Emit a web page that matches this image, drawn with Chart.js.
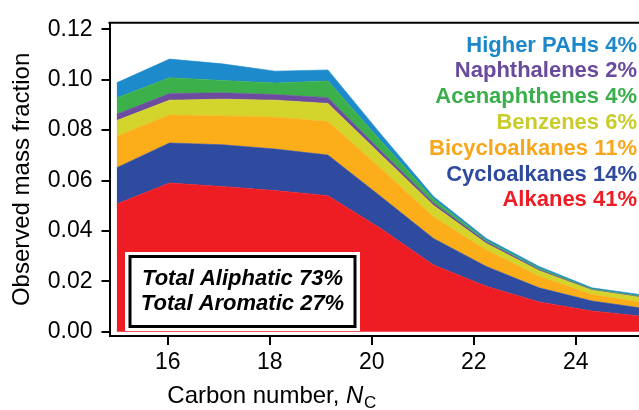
<!DOCTYPE html>
<html>
<head>
<meta charset="utf-8">
<script src="https://cdn.jsdelivr.net/npm/chart.js@4"></script>
<style>
  html, body { margin: 0; padding: 0; background: #fff; overflow: hidden; }
  #wrap { position: relative; width: 660px; height: 410px; }
</style>
</head>
<body>
<div id="wrap"><canvas id="c" width="660" height="410"></canvas></div>
<script>
// Carbon numbers of the samples
const carbonNumbers = [15, 16, 17, 18, 19, 20, 21, 22, 23, 24, 25];

// Observed mass fraction per compound class (stacked, bottom to top)
const alkanes        = [0.0507, 0.0590, 0.0576, 0.0560, 0.0540, 0.0410, 0.0265, 0.0180, 0.0118, 0.0082, 0.0060];
const cycloalkanes   = [0.0144, 0.0159, 0.0166, 0.0165, 0.0161, 0.0127, 0.0105, 0.0079, 0.0056, 0.0040, 0.0032];
const bicycloalkanes = [0.0124, 0.0111, 0.0114, 0.0126, 0.0133, 0.0111, 0.0085, 0.0065, 0.0046, 0.0026, 0.0022];
const benzenes       = [0.0063, 0.0059, 0.0067, 0.0068, 0.0072, 0.0055, 0.0046, 0.0026, 0.0022, 0.0017, 0.0020];
const naphthalenes   = [0.0025, 0.0026, 0.0025, 0.0022, 0.0023, 0.0015, 0.0010, 0.0007, 0.0005, 0.0002, 0.0002];
const acenaphthenes  = [0.0065, 0.0063, 0.0049, 0.0046, 0.0066, 0.0040, 0.0016, 0.0005, 0.0005, 0.0003, 0.0003];
const higherPAHs     = [0.0060, 0.0074, 0.0066, 0.0047, 0.0044, 0.0027, 0.0010, 0.0008, 0.0007, 0.0004, 0.0006];

const seriesNames  = ['Alkanes', 'Cycloalkanes', 'Bicycloalkanes', 'Benzenes', 'Naphthalenes', 'Acenaphthenes', 'Higher PAHs'];
const seriesValues = [alkanes, cycloalkanes, bicycloalkanes, benzenes, naphthalenes, acenaphthenes, higherPAHs];
const seriesColors = ['#ee1d23', '#2f4b9f', '#fbad1a', '#d3d52c', '#6b4c9f', '#3cb04a', '#1d8acb'];

// Legend text, top to bottom
const legendLabels = ['Higher PAHs 4%', 'Naphthalenes 2%', 'Acenaphthenes 4%', 'Benzenes 6%', 'Bicycloalkanes 11%', 'Cycloalkanes 14%', 'Alkanes 41%'];
const legendColors = ['#1c88c9', '#6a4a9c', '#3aae4a', '#c8cc2c', '#f9a61b', '#2e4a9e', '#ee1d23'];

const totalsLines = ['Total Aliphatic 73%', 'Total Aromatic 27%'];

const xTickValues = [16, 18, 20, 22, 24];
const yTickValues = [0, 0.02, 0.04, 0.06, 0.08, 0.10, 0.12];

const FONT = "'Liberation Sans', Arial, Helvetica, sans-serif";

const datasets = seriesNames.map((name, i) => ({
  label: name,
  data: carbonNumbers.map((n, j) => ({ x: n, y: seriesValues[i][j] })),
  xAxisID: 'xd',
  yAxisID: 'y',
  backgroundColor: seriesColors[i],
  borderColor: seriesColors[i],
  borderWidth: 0.6,
  pointRadius: 0,
  tension: 0,
  fill: i === 0 ? 'origin' : '-1'
}));

// Top edge of the plot frame, text overlays
const overlays = {
  id: 'overlays',
  afterDatasetsDraw(chart) {
    const ctx = chart.ctx;
    const a = chart.chartArea;
    ctx.save();
    // frame top
    ctx.strokeStyle = '#000';
    ctx.lineWidth = 2;
    ctx.beginPath();
    ctx.moveTo(a.left - 1, a.top);
    ctx.lineTo(a.right, a.top);
    ctx.stroke();

    // legend
    ctx.font = 'bold 22px ' + FONT;
    ctx.textAlign = 'right';
    ctx.textBaseline = 'alphabetic';
    legendLabels.forEach((t, i) => {
      ctx.fillStyle = legendColors[i];
      ctx.fillText(t, 637, 51.5 + i * 25.8);
    });

    // totals box
    ctx.fillStyle = '#fff';
    ctx.fillRect(125, 252, 235, 79);
    ctx.strokeStyle = '#000';
    ctx.lineWidth = 3;
    ctx.strokeRect(130, 256.5, 225, 70);
    ctx.fillStyle = '#000';
    ctx.font = 'italic bold 22px ' + FONT;
    ctx.textAlign = 'center';
    ctx.fillText(totalsLines[0], 242.5, 285);
    ctx.fillText(totalsLines[1], 242.5, 310);

    ctx.restore();
  },
  afterDraw(chart) {
    // x axis title with italic N and subscript C
    const ctx = chart.ctx;
    ctx.save();
    ctx.fillStyle = '#000';
    ctx.textBaseline = 'alphabetic';
    ctx.textAlign = 'left';
    const f1 = '24px ' + FONT, f2 = 'italic 24px ' + FONT, f3 = '17px ' + FONT;
    ctx.font = f1; const w1 = ctx.measureText('Carbon number, ').width;
    ctx.font = f2; const w2 = ctx.measureText('N').width;
    ctx.font = f3; const w3 = ctx.measureText('C').width;
    let x = 271.5 - (w1 + w2 + w3) / 2;
    const base = 403;
    ctx.font = f1; ctx.fillText('Carbon number, ', x, base); x += w1;
    ctx.font = f2; ctx.fillText('N', x, base); x += w2 + 0.5;
    ctx.font = f3; ctx.fillText('C', x, base + 5);
    ctx.restore();
  }
};

new Chart(document.getElementById('c'), {
  type: 'line',
  data: { datasets },
  options: {
    responsive: false,
    animation: false,
    layout: { padding: { top: 18, right: 0, left: 0, bottom: 0 } },
    plugins: { legend: { display: false }, tooltip: { enabled: false } },
    scales: {
      xd: {
        type: 'linear',
        display: false,
        min: 14.8636,
        max: 25.29
      },
      x: {
        type: 'linear',
        position: 'bottom',
        min: 14.8588,
        max: 25.653,
        afterBuildTicks(s) { s.ticks = xTickValues.map(v => ({ value: v })); },
        afterFit(s) { s.height = 74; },
        border: { display: true, color: '#000', width: 2 },
        grid: { drawOnChartArea: false, drawTicks: true, tickLength: 9, color: '#000', lineWidth: 2 },
        ticks: { color: '#000', font: { family: FONT, size: 23 }, padding: 4, maxRotation: 0 }
      },
      y: {
        type: 'linear',
        position: 'left',
        stacked: true,
        min: -0.0017,
        max: 0.1226,
        afterBuildTicks(s) { s.ticks = yTickValues.map(v => ({ value: v })); },
        afterFit(s) { s.width = 109.5; },
        border: { display: true, color: '#000', width: 2 },
        grid: { drawOnChartArea: false, drawTicks: true, tickLength: 8, color: '#000', lineWidth: 2 },
        ticks: {
          color: '#000',
          font: { family: FONT, size: 23 },
          padding: 9,
          callback: v => v.toFixed(2)
        },
        title: {
          display: true,
          text: 'Observed mass fraction',
          color: '#000',
          font: { family: FONT, size: 24 },
          padding: { top: 8, bottom: 0 }
        }
      }
    }
  },
  plugins: [overlays]
});
</script>
</body>
</html>
